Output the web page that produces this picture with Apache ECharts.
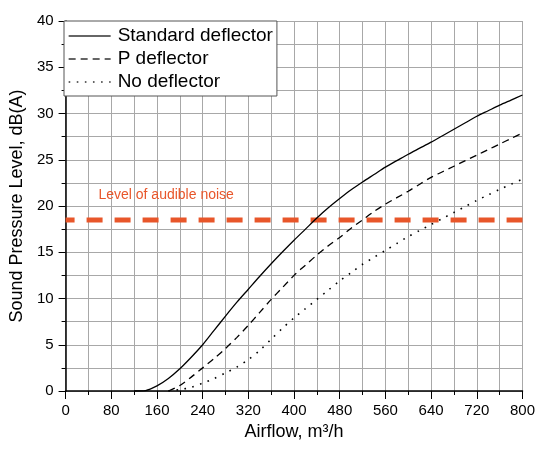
<!DOCTYPE html>
<html>
<head>
<meta charset="utf-8">
<script src="https://cdn.jsdelivr.net/npm/echarts@6/dist/echarts.min.js"></script>
<style>
html,body{margin:0;padding:0;background:#fff;}
#chart{width:538px;height:450px;}
</style>
</head>
<body>
<div id="chart"></div>
<script>
// Data
var stdX = [120, 140, 160, 180, 200, 220, 240, 260, 280, 300, 320, 340, 360, 380, 400, 420, 440, 460, 480, 500, 520, 540, 560, 580, 600, 620, 640, 660, 680, 700, 720, 740, 760, 780, 800];
var stdY = [0, 0.05, 0.55, 1.35, 2.4, 3.65, 5.0, 6.55, 8.1, 9.6, 11.0, 12.4, 13.75, 15.05, 16.3, 17.5, 18.7, 19.8, 20.8, 21.75, 22.6, 23.4, 24.2, 24.9, 25.6, 26.25, 26.9, 27.6, 28.3, 29.0, 29.7, 30.3, 30.9, 31.45, 32.0];

var pX = [180, 200, 220, 240, 260, 280, 300, 320, 340, 360, 380, 400, 420, 440, 460, 480, 500, 520, 540, 560, 580, 600, 620, 640, 660, 680, 700, 720, 740, 760, 780, 800];
var pY = [0, 0.6, 1.5, 2.5, 3.5, 4.6, 5.8, 7.1, 8.5, 9.9, 11.2, 12.5, 13.6, 14.7, 15.7, 16.6, 17.6, 18.5, 19.4, 20.2, 20.9, 21.6, 22.35, 23.1, 23.7, 24.3, 24.9, 25.5, 26.1, 26.7, 27.3, 27.9];

var noX = [180, 200, 220, 240, 260, 280, 300, 320, 340, 360, 380, 400, 420, 440, 460, 480, 500, 520, 540, 560, 580, 600, 620, 640, 660, 680, 700, 720, 740, 760, 780, 800];
var noY = [0, 0.15, 0.4, 0.85, 1.35, 1.95, 2.6, 3.4, 4.4, 5.6, 6.8, 7.9, 8.9, 9.9, 10.9, 11.9, 12.8, 13.7, 14.45, 15.2, 15.95, 16.7, 17.35, 18.0, 18.65, 19.3, 19.95, 20.6, 21.2, 21.8, 22.35, 22.9];

var noiseX = [0, 800];
var noiseY = [18.5, 18.5];
var noiseLabel = 'Level of audible noise';
var noiseLabelPos = [57.5, 21.1];

var seriesNames = ['Standard deflector', 'P deflector', 'No deflector'];
var xTitle = 'Airflow, m\u00B3/h';
var yTitle = 'Sound Pressure Level, dB(A)';

function zip(xs, ys) { return xs.map(function (x, i) { return [x, ys[i]]; }); }

var FONT = "'Liberation Sans', Arial, sans-serif";
var chart = echarts.init(document.getElementById('chart'), null, {renderer: 'canvas'});

var option = {
  backgroundColor: '#fff',
  animation: false,
  grid: {left: 64, right: 15, top: 21, bottom: 59},
  legend: {
    data: seriesNames,
    orient: 'vertical',
    left: 64, top: 21,
    backgroundColor: '#fff',
    borderColor: '#555',
    borderWidth: 1,
    padding: [5, 4, 4, 4],
    itemWidth: 42,
    itemHeight: 14,
    itemGap: 3,
    itemStyle: {opacity: 0},
    lineStyle: {width: 1.3, color: '#333'},
    textStyle: {fontFamily: FONT, fontSize: 19, color: '#000', lineHeight: 20, padding: [0, 0, 0, 2]}
  },
  xAxis: {
    type: 'value', min: 0, max: 800, interval: 80,
    name: xTitle, nameLocation: 'middle', nameGap: 31,
    nameTextStyle: {fontFamily: FONT, fontSize: 18, color: '#000'},
    axisLine: {show: true, lineStyle: {color: '#000', width: 1.5}},
    axisTick: {show: true, length: 8, lineStyle: {color: '#000', width: 1}},
    minorTick: {show: true, splitNumber: 2, length: 4, lineStyle: {color: '#000', width: 1}},
    axisLabel: {fontFamily: FONT, fontSize: 15, color: '#000', margin: 12},
    splitLine: {show: true, lineStyle: {color: '#a8a8a8', width: 1}},
    minorSplitLine: {show: true, lineStyle: {color: '#a8a8a8', width: 1}}
  },
  yAxis: {
    type: 'value', min: 0, max: 40, interval: 5,
    name: yTitle, nameLocation: 'middle', nameGap: 28,
    nameTextStyle: {fontFamily: FONT, fontSize: 18, color: '#000'},
    axisLine: {show: true, lineStyle: {color: '#000', width: 1.5}},
    axisTick: {show: true, length: 7, lineStyle: {color: '#000', width: 1}},
    minorTick: {show: true, splitNumber: 2, length: 4, lineStyle: {color: '#000', width: 1}},
    axisLabel: {fontFamily: FONT, fontSize: 15, color: '#000', margin: 12},
    splitLine: {show: true, lineStyle: {color: '#a8a8a8', width: 1}},
    minorSplitLine: {show: true, lineStyle: {color: '#a8a8a8', width: 1}}
  },
  series: [
    {
      name: 'noise', type: 'line', data: zip(noiseX, noiseY), symbol: 'none', silent: true,
      lineStyle: {color: '#E8562A', width: 5, type: [16, 12], dashOffset: 7},
      z: 3
    },
    {
      name: seriesNames[0], type: 'line', data: zip(stdX, stdY), symbol: 'none', showSymbol: false,
      smooth: 0.3,
      color: '#000', lineStyle: {color: '#000', width: 1.3, type: 'solid'}, z: 4
    },
    {
      name: seriesNames[1], type: 'line', data: zip(pX, pY), symbol: 'none', showSymbol: false,
      smooth: 0.3,
      color: '#000', lineStyle: {color: '#000', width: 1.3, type: [7, 5]}, z: 4
    },
    {
      name: seriesNames[2], type: 'line', data: zip(noX, noY), symbol: 'none', showSymbol: false,
      smooth: 0.3,
      color: '#000', lineStyle: {color: '#000', width: 1.6, type: [1.6, 6.5]}, z: 4
    }
  ]
};
chart.setOption(option);

var p = chart.convertToPixel({gridIndex: 0}, noiseLabelPos);
chart.setOption({
  graphic: [{
    type: 'text', left: p[0], top: p[1] - 8, z: 10,
    style: {text: noiseLabel, fill: '#E8562A', font: '14px ' + FONT}
  }]
});
</script>
</body>
</html>
